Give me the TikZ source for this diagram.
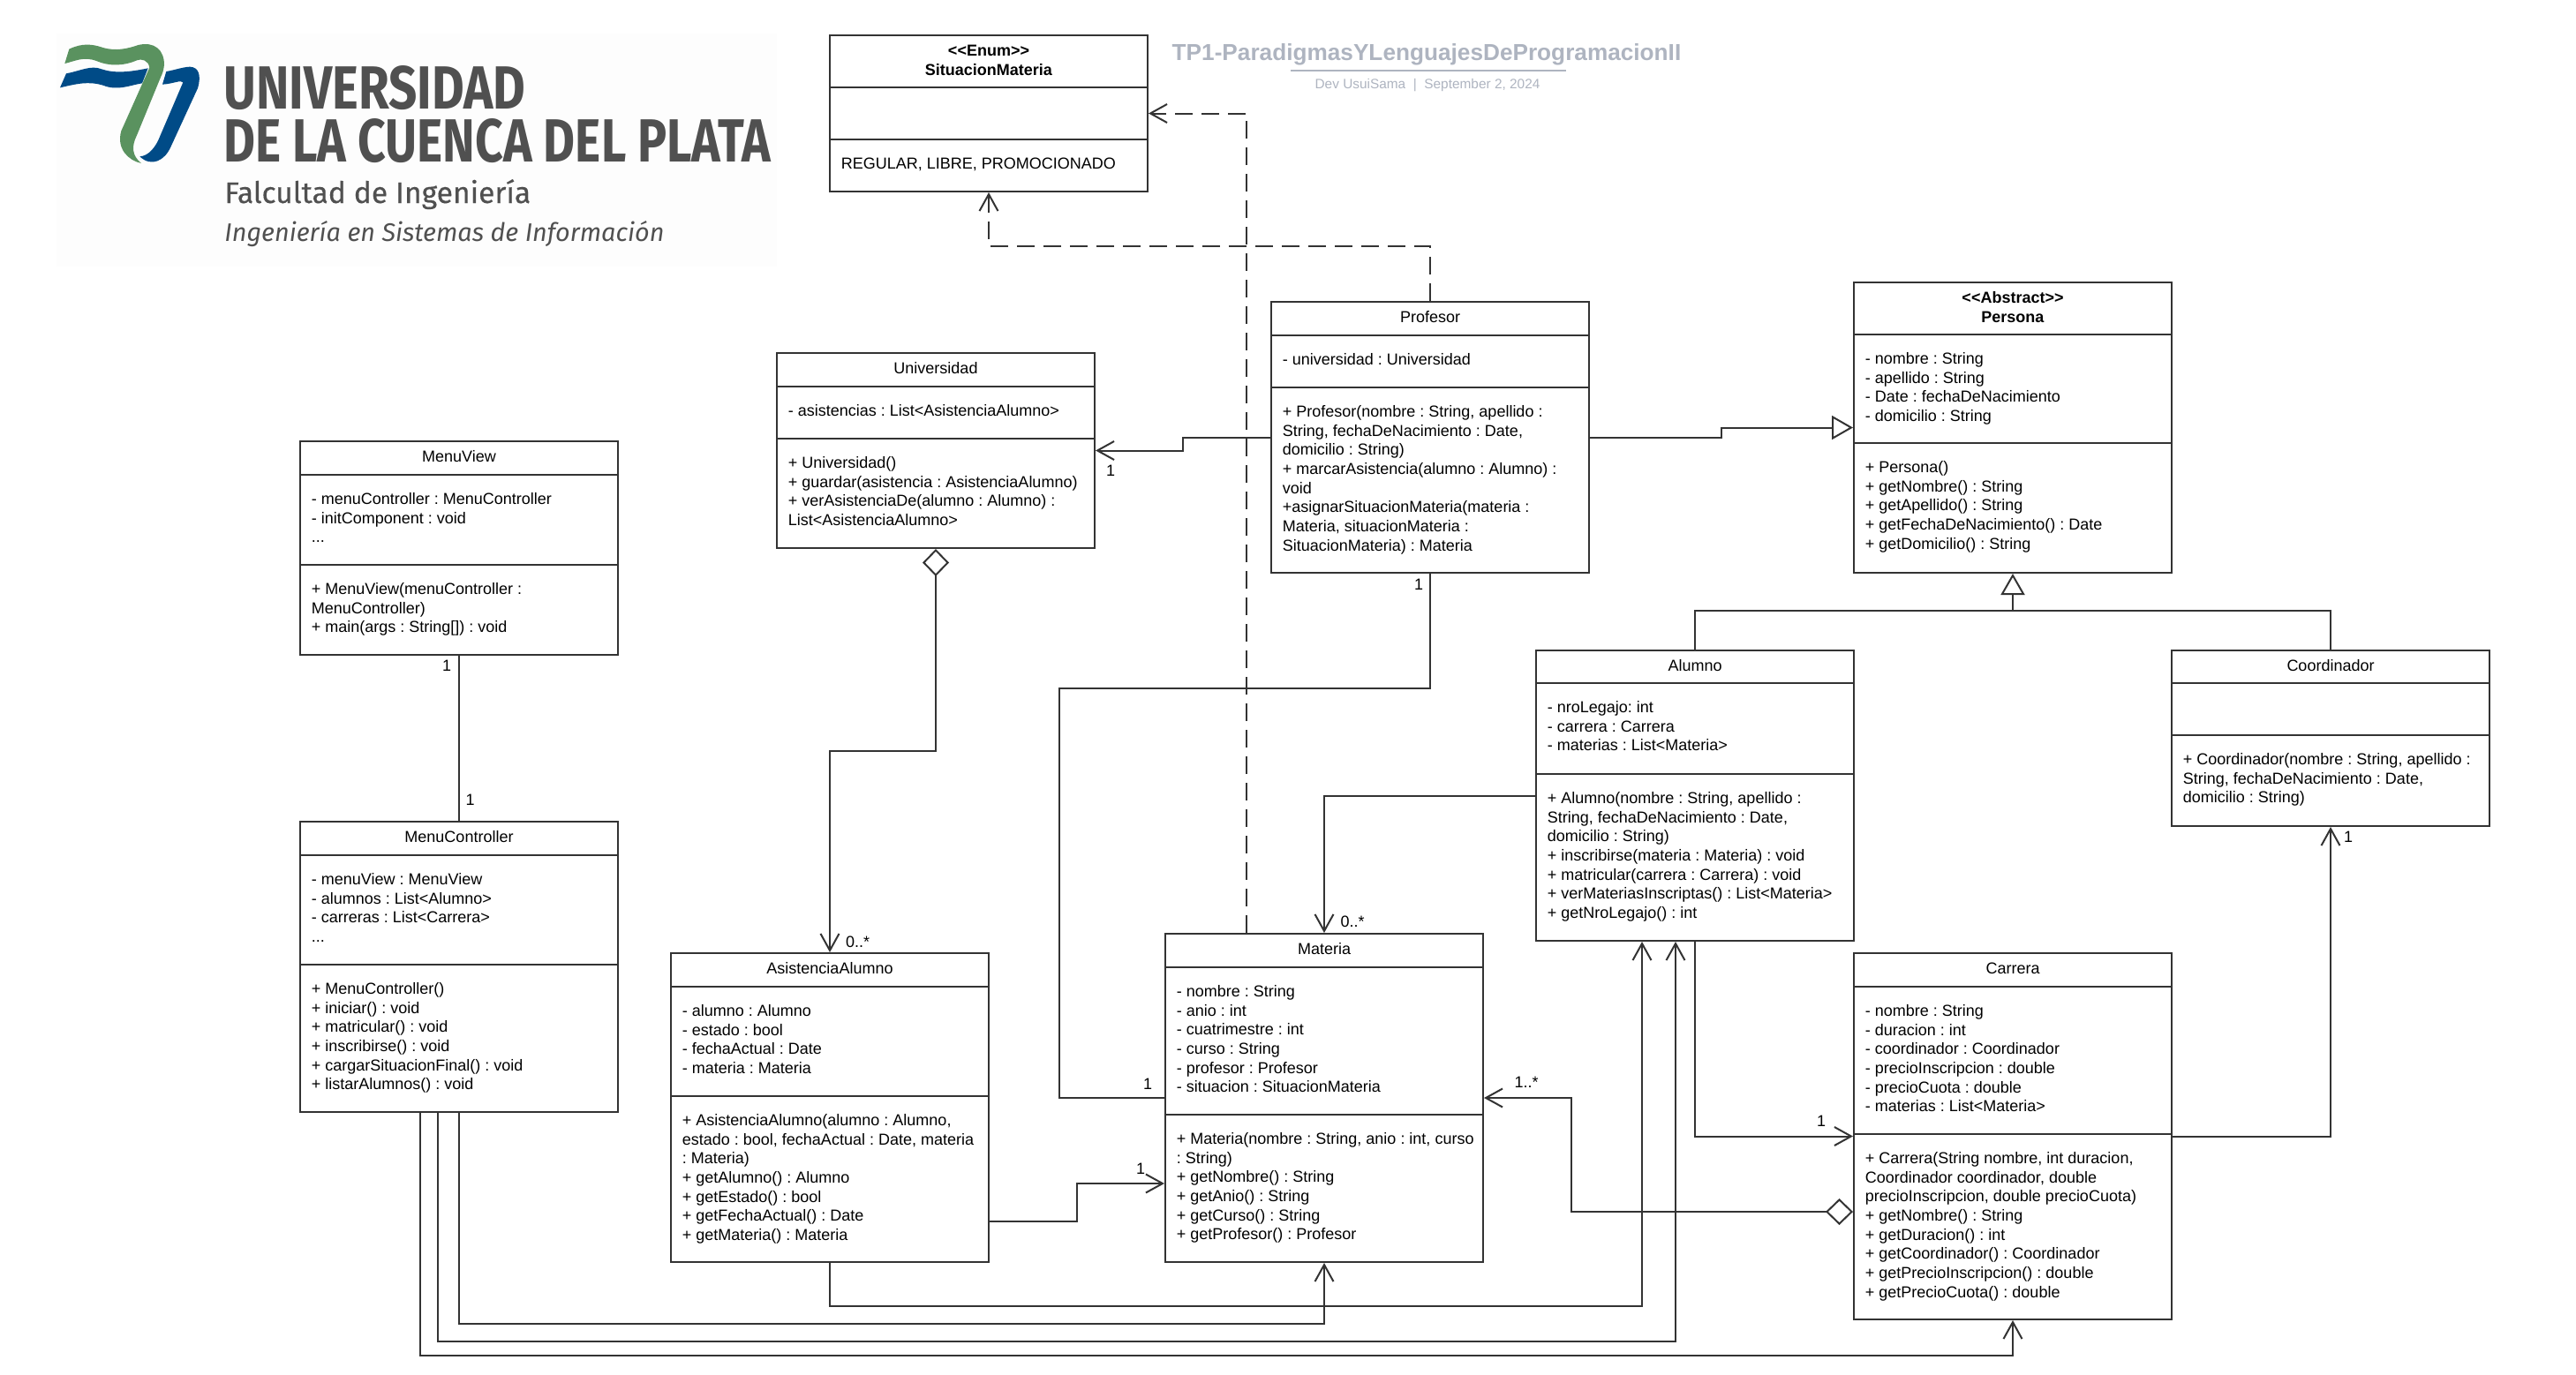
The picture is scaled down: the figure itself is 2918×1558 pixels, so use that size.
\documentclass[tikz,border=0pt]{standalone}
\usepackage{fontspec}
\setmainfont{Liberation Sans}
\newfontfamily\logofont{Fira Sans}
\newfontfamily\logomed[FakeBold=0.35]{Fira Sans}
\usetikzlibrary{arrows.meta,calc}
\definecolor{ink}{HTML}{333333}
\definecolor{logogrey}{HTML}{505050}
\definecolor{logogreen}{HTML}{5A925F}
\definecolor{logoblue}{HTML}{004B87}
\definecolor{titlegrey}{HTML}{AEB4C0}
\definecolor{logoback}{HTML}{FDFDFD}
\frenchspacing
\tikzset{
  classbox/.style={draw=ink,line width=1pt,inner sep=0pt,fill=white},
  rowrule/.style={draw=ink,line width=1pt},
  rowtext/.style={anchor=north west,inner sep=0pt,align=left,font=\fontsize{9}{10.85}\selectfont\frenchspacing,text=black},
  headtext/.style={anchor=north,inner sep=0pt,align=center,font=\fontsize{9}{10.85}\selectfont\frenchspacing,text=black},
  multlabel/.style={inner sep=0pt,font=\fontsize{9}{10.85}\selectfont,text=black},
  conn/.style={draw=ink,line width=1pt,-{Straight Barb[length=9.5pt,width=10.5pt,line width=1pt]}},
  plainconn/.style={draw=ink,line width=1pt},
  depconn/.style={conn,dash pattern=on 10pt off 5pt},
  inherit/.style={draw=ink,line width=1pt,-{Triangle[open,fill=white,length=12pt,width=13.5pt,line width=1pt]}},
  aggr/.style={conn,{Diamond[open,fill=white,length=15.5pt,width=15pt,line width=1pt]}-{Straight Barb[length=9.5pt,width=10.5pt,line width=1pt]}},
}
\newcommand{\umlbox}[8]{%
  \node[classbox,minimum width={(#3-#2)*0.5pt},minimum height={(#7-#4)*0.5pt}] (#1) at ({(#2+#3)/2},{(#4+#7)/2}) {};
  \draw[rowrule] (#2,#5) -- (#3,#5);
  \draw[rowrule] (#2,#6) -- (#3,#6);
  \node[headtext] (#1-t) at ({(#2+#3)/2},#4+9) {\rule{0pt}{7pt}#8};
}
\newcommand{\umlrows}[4]{%
  \node[rowtext] (#1) at (#2+12.5,#3+19) {\rule{0pt}{7pt}#4};
}
\begin{document}
\begin{tikzpicture}[x=0.5pt,y=-0.5pt]
\useasboundingbox (0,0) rectangle (2918,1558);
% logo
\fill[fill=logoback] (64,38) rectangle (880,302);
\begin{scope}[shift={(60,40)},x=0.16667pt,y=-0.16667pt]
\fill[logoblue] (24,178) -- (45,130) .. controls (90,122) and (130,100) .. (165,115) .. controls (210,130) and (260,125) .. (323,112) -- (303,163) .. controls (260,170) and (220,190) .. (170,170) .. controls (120,155) and (80,165) .. (24,178) -- cycle;
\fill[logoblue] (385,123) .. controls (415,118) and (440,108) .. (465,107) .. controls (495,108) and (505,135) .. (492,180) -- (400,380) .. controls (380,425) and (335,450) .. (295,412) .. controls (325,410) and (350,380) .. (365,340) -- (442,160) .. controls (435,150) and (410,165) .. (372,167) -- cycle;
\fill[logogreen] (40,96) -- (55,47) .. controls (100,25) and (135,30) .. (170,42) .. controls (215,55) and (255,45) .. (290,33) .. controls (345,20) and (378,50) .. (378,100) .. controls (376,120) and (372,130) .. (365,145) -- (285,340) .. controls (265,380) and (270,410) .. (300,435) .. controls (255,425) and (215,385) .. (232,325) -- (328,110) .. controls (325,85) and (300,78) .. (285,85) .. controls (240,105) and (190,105) .. (150,88) .. controls (105,70) and (75,88) .. (40,96) -- cycle;
\end{scope}
\node[inner sep=0pt,anchor=south west,text=logogrey] (logoA) at (253,125.5) {\resizebox{171pt}{24.5pt}{\logofont\bfseries UNIVERSIDAD}};
\node[inner sep=0pt,anchor=south west,text=logogrey] (logoB) at (253,185.5) {\resizebox{310pt}{24.5pt}{\logofont\bfseries DE LA CUENCA DEL PLATA}};
\node[inner sep=0pt,anchor=base west,text=logogrey,font=\logomed\fontsize{16.8}{18}\selectfont] (logoC) at (254,230) {Falcultad de Ingeniería};
\node[inner sep=0pt,anchor=base west,text=logogrey,font=\logofont\itshape\fontsize{14.4}{16}\selectfont] (logoD) at (254,273) {Ingeniería en Sistemas de Información};
% heading
\node[inner sep=0pt,anchor=base,text=titlegrey,font=\bfseries\fontsize{13.1}{16}\selectfont] (doctitle) at (1616,68) {TP1-ParadigmasYLenguajesDeProgramacionII};
\fill[titlegrey] (1462,79) rectangle (1774,81);
\node[inner sep=0pt,anchor=base,text=titlegrey,font=\fontsize{7.7}{9}\selectfont] (docsub) at (1617,100) {Dev UsuiSama~~|~~September 2, 2024};
% classes
\umlbox{sm}{940}{1300}{40}{99}{158}{217}{\textbf{<{}<Enum>{}>}\\\textbf{SituacionMateria}}
\umlrows{sm-m}{940}{158}{REGULAR, LIBRE, PROMOCIONADO}
\umlbox{mv}{340}{700}{500}{538}{640}{742}{MenuView}
\umlrows{mv-a}{340}{538}{- menuController : MenuController\\- initComponent : void\\...}
\umlrows{mv-m}{340}{640}{+ MenuView(menuController :\\MenuController)\\+ main(args : String[]) : void}
\umlbox{mc}{340}{700}{931}{969}{1093}{1260}{MenuController}
\umlrows{mc-a}{340}{969}{- menuView : MenuView\\- alumnos : List<Alumno>\\- carreras : List<Carrera>\\...}
\umlrows{mc-m}{340}{1093}{+ MenuController()\\+ iniciar() : void\\+ matricular() : void\\+ inscribirse() : void\\+ cargarSituacionFinal() : void\\+ listarAlumnos() : void}
\umlbox{uni}{880}{1240}{400}{438}{497}{621}{Universidad}
\umlrows{uni-a}{880}{438}{- asistencias : List<AsistenciaAlumno>}
\umlrows{uni-m}{880}{497}{+ Universidad()\\+ guardar(asistencia : AsistenciaAlumno)\\+ verAsistenciaDe(alumno : Alumno) :\\List<AsistenciaAlumno>}
\umlbox{prof}{1440}{1800}{342}{380}{439}{649}{Profesor}
\umlrows{prof-a}{1440}{380}{- universidad : Universidad}
\umlrows{prof-m}{1440}{439}{+ Profesor(nombre : String, apellido :\\String, fechaDeNacimiento : Date,\\domicilio : String)\\+ marcarAsistencia(alumno : Alumno) :\\void\\+asignarSituacionMateria(materia :\\Materia, situacionMateria :\\SituacionMateria) : Materia}
\umlbox{per}{2100}{2460}{320}{379}{502}{649}{\textbf{<{}<Abstract>{}>}\\\textbf{Persona}}
\umlrows{per-a}{2100}{379}{- nombre : String\\- apellido : String\\- Date : fechaDeNacimiento\\- domicilio : String}
\umlrows{per-m}{2100}{502}{+ Persona()\\+ getNombre() : String\\+ getApellido() : String\\+ getFechaDeNacimiento() : Date\\+ getDomicilio() : String}
\umlbox{alu}{1740}{2100}{737}{774}{877}{1066}{Alumno}
\umlrows{alu-a}{1740}{774}{- nroLegajo: int\\- carrera : Carrera\\- materias : List<Materia>}
\umlrows{alu-m}{1740}{877}{+ Alumno(nombre : String, apellido :\\String, fechaDeNacimiento : Date,\\domicilio : String)\\+ inscribirse(materia : Materia) : void\\+ matricular(carrera : Carrera) : void\\+ verMateriasInscriptas() : List<Materia>\\+ getNroLegajo() : int}
\umlbox{coo}{2460}{2820}{737}{774}{833}{936}{Coordinador}
\umlrows{coo-m}{2460}{833}{+ Coordinador(nombre : String, apellido :\\String, fechaDeNacimiento : Date,\\domicilio : String)}
\umlbox{asi}{760}{1120}{1080}{1118}{1242}{1430}{AsistenciaAlumno}
\umlrows{asi-a}{760}{1118}{- alumno : Alumno\\- estado : bool\\- fechaActual : Date\\- materia : Materia}
\umlrows{asi-m}{760}{1242}{+ AsistenciaAlumno(alumno : Alumno,\\estado : bool, fechaActual : Date, materia\\: Materia)\\+ getAlumno() : Alumno\\+ getEstado() : bool\\+ getFechaActual() : Date\\+ getMateria() : Materia}
\umlbox{mat}{1320}{1680}{1058}{1096}{1263}{1430}{Materia}
\umlrows{mat-a}{1320}{1096}{- nombre : String\\- anio : int\\- cuatrimestre : int\\- curso : String\\- profesor : Profesor\\- situacion : SituacionMateria}
\umlrows{mat-m}{1320}{1263}{+ Materia(nombre : String, anio : int, curso\\: String)\\+ getNombre() : String\\+ getAnio() : String\\+ getCurso() : String\\+ getProfesor() : Profesor}
\umlbox{car}{2100}{2460}{1080}{1118}{1285}{1495}{Carrera}
\umlrows{car-a}{2100}{1118}{- nombre : String\\- duracion : int\\- coordinador : Coordinador\\- precioInscripcion : double\\- precioCuota : double\\- materias : List<Materia>}
\umlrows{car-m}{2100}{1285}{+ Carrera(String nombre, int duracion,\\Coordinador coordinador, double\\precioInscripcion, double precioCuota)\\+ getNombre() : String\\+ getDuracion() : int\\+ getCoordinador() : Coordinador\\+ getPrecioInscripcion() : double\\+ getPrecioCuota() : double}
% ports
\coordinate (matDep) at (1412,1057);
\coordinate (asiOut) at (1121,1384);
\coordinate (matIn) at (1319,1341);
\coordinate (mcA) at (520,1261);
\coordinate (mcB) at (496,1261);
\coordinate (mcC) at (476,1261);
\coordinate (aluInA) at (1860,1067);
\coordinate (aluInB) at (1898,1067);
\coordinate (carAgg) at (2099,1373);
% connectors
\draw[depconn] (prof.north) -- ++(0,-62) -| (sm.south);
\draw[depconn] (matDep) |- (sm.east);
\draw[conn] (prof.west) -- ++(-99,0) |- (uni.east);
\draw[inherit] (prof.east) -- ++(149,0) |- (per.west);
\draw[inherit] (alu.north) |- (2280,692) -- (per.south);
\draw[plainconn] (coo.north) |- (2280,692);
\draw[aggr] (uni.south) |- (940,851) -- (asi.north);
\draw[plainconn] (mv.south) -- (mc.north);
\draw[plainconn] (prof.south) |- (1200,780) |- (mat.west);
\draw[conn] (alu.west) -| (mat.north);
\draw[conn] (asiOut) -| (1220,1341) -- (matIn);
\draw[conn] (asi.south) |- (1860,1480) -- (aluInA);
\draw[conn] (mcA) |- (1500,1500) -- (mat.south);
\draw[conn] (mcB) |- (1898,1520) -- (aluInB);
\draw[conn] (mcC) |- (2280,1536) -- (car.south);
\draw[conn] (alu.south) |- (car.west);
\draw[conn] (car.east) -| (coo.south);
\draw[aggr] (carAgg) -| (1780,1244) -- (mat.east);
% multiplicities
\node[multlabel] (l1) at (1258,533) {1};
\node[multlabel] (l2) at (506,754) {1};
\node[multlabel] (l3) at (532.5,906) {1};
\node[multlabel] (l4) at (1607,662) {1};
\node[multlabel] (l5) at (1300,1228) {1};
\node[multlabel] (l6) at (971.5,1067) {0..*};
\node[multlabel] (l7) at (1532,1044.5) {0..*};
\node[multlabel] (l8) at (1729,1226) {1..*};
\node[multlabel] (l9) at (1292,1324) {1};
\node[multlabel] (l10) at (2063,1270) {1};
\node[multlabel] (l11) at (2660,948) {1};
\end{tikzpicture}
\end{document}
